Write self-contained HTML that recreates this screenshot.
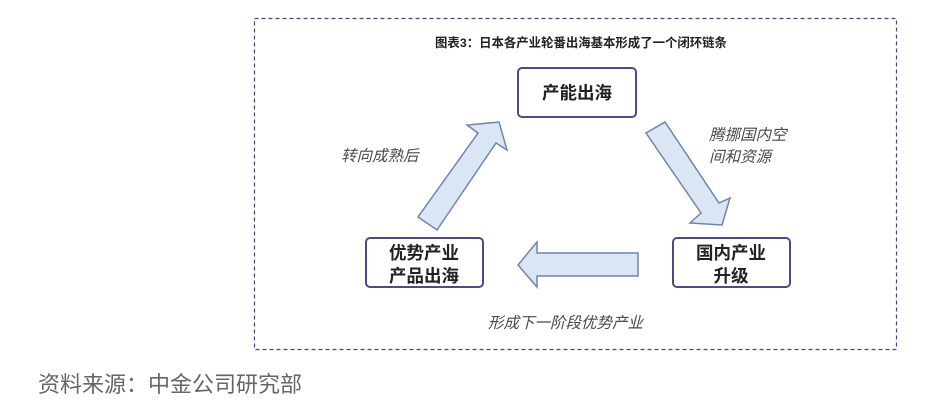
<!DOCTYPE html>
<html><head><meta charset="utf-8"><style>
body{margin:0;width:948px;height:408px;background:#fff;overflow:hidden;font-family:"Liberation Sans","Noto Sans CJK SC",sans-serif}
svg{position:absolute;left:0;top:0}
</style></head><body>
<svg width="948" height="408" viewBox="0 0 948 408" xmlns="http://www.w3.org/2000/svg" font-family="Liberation Sans, Noto Sans CJK SC, sans-serif">
<rect x="254.5" y="18.5" width="642" height="331" fill="none" stroke="#3a4a8a" stroke-width="1.2" stroke-dasharray="4,3"/>
<text x="581" y="47" font-size="12.4" font-weight="bold" text-anchor="middle" fill="#222">图表3：日本各产业轮番出海基本形成了一个闭环链条</text>
<g fill="#fff" stroke="#4d4a86" stroke-width="2">
<rect x="518" y="68" width="118" height="49" rx="4"/>
<rect x="366" y="238" width="117" height="49" rx="4"/>
<rect x="673" y="238" width="117" height="49" rx="4"/>
</g>
<g font-size="17.5" font-weight="bold" fill="#222" text-anchor="middle">
<text x="577" y="99">产能出海</text>
<text x="424" y="259">优势产业</text>
<text x="424" y="282">产品出海</text>
<text x="731" y="259">国内产业</text>
<text x="731" y="282">升级</text>
</g>
<g fill="#dbe6f5" stroke="#6f84ad" stroke-width="1.5" stroke-linejoin="miter">
<polygon points="418,217 437,230 496,143 507,150 499,122 467,125 478,133"/>
<polygon points="646,133 665,122 719,203 730,198 722,225 690,223 701,213"/>
<polygon points="638,253 537,253 537,242 518,265 537,287 537,276 638,276"/>
</g>
<g font-size="15.5" font-style="italic" fill="#4a4a4a">
<text x="341" y="161">转向成熟后</text>
<text x="709" y="140">腾挪国内空</text>
<text x="709" y="162">间和资源</text>
<text x="488" y="328">形成下一阶段优势产业</text>
</g>
<text x="38" y="392" font-size="22" fill="#666">资料来源：中金公司研究部</text>
</svg>
</body></html>
